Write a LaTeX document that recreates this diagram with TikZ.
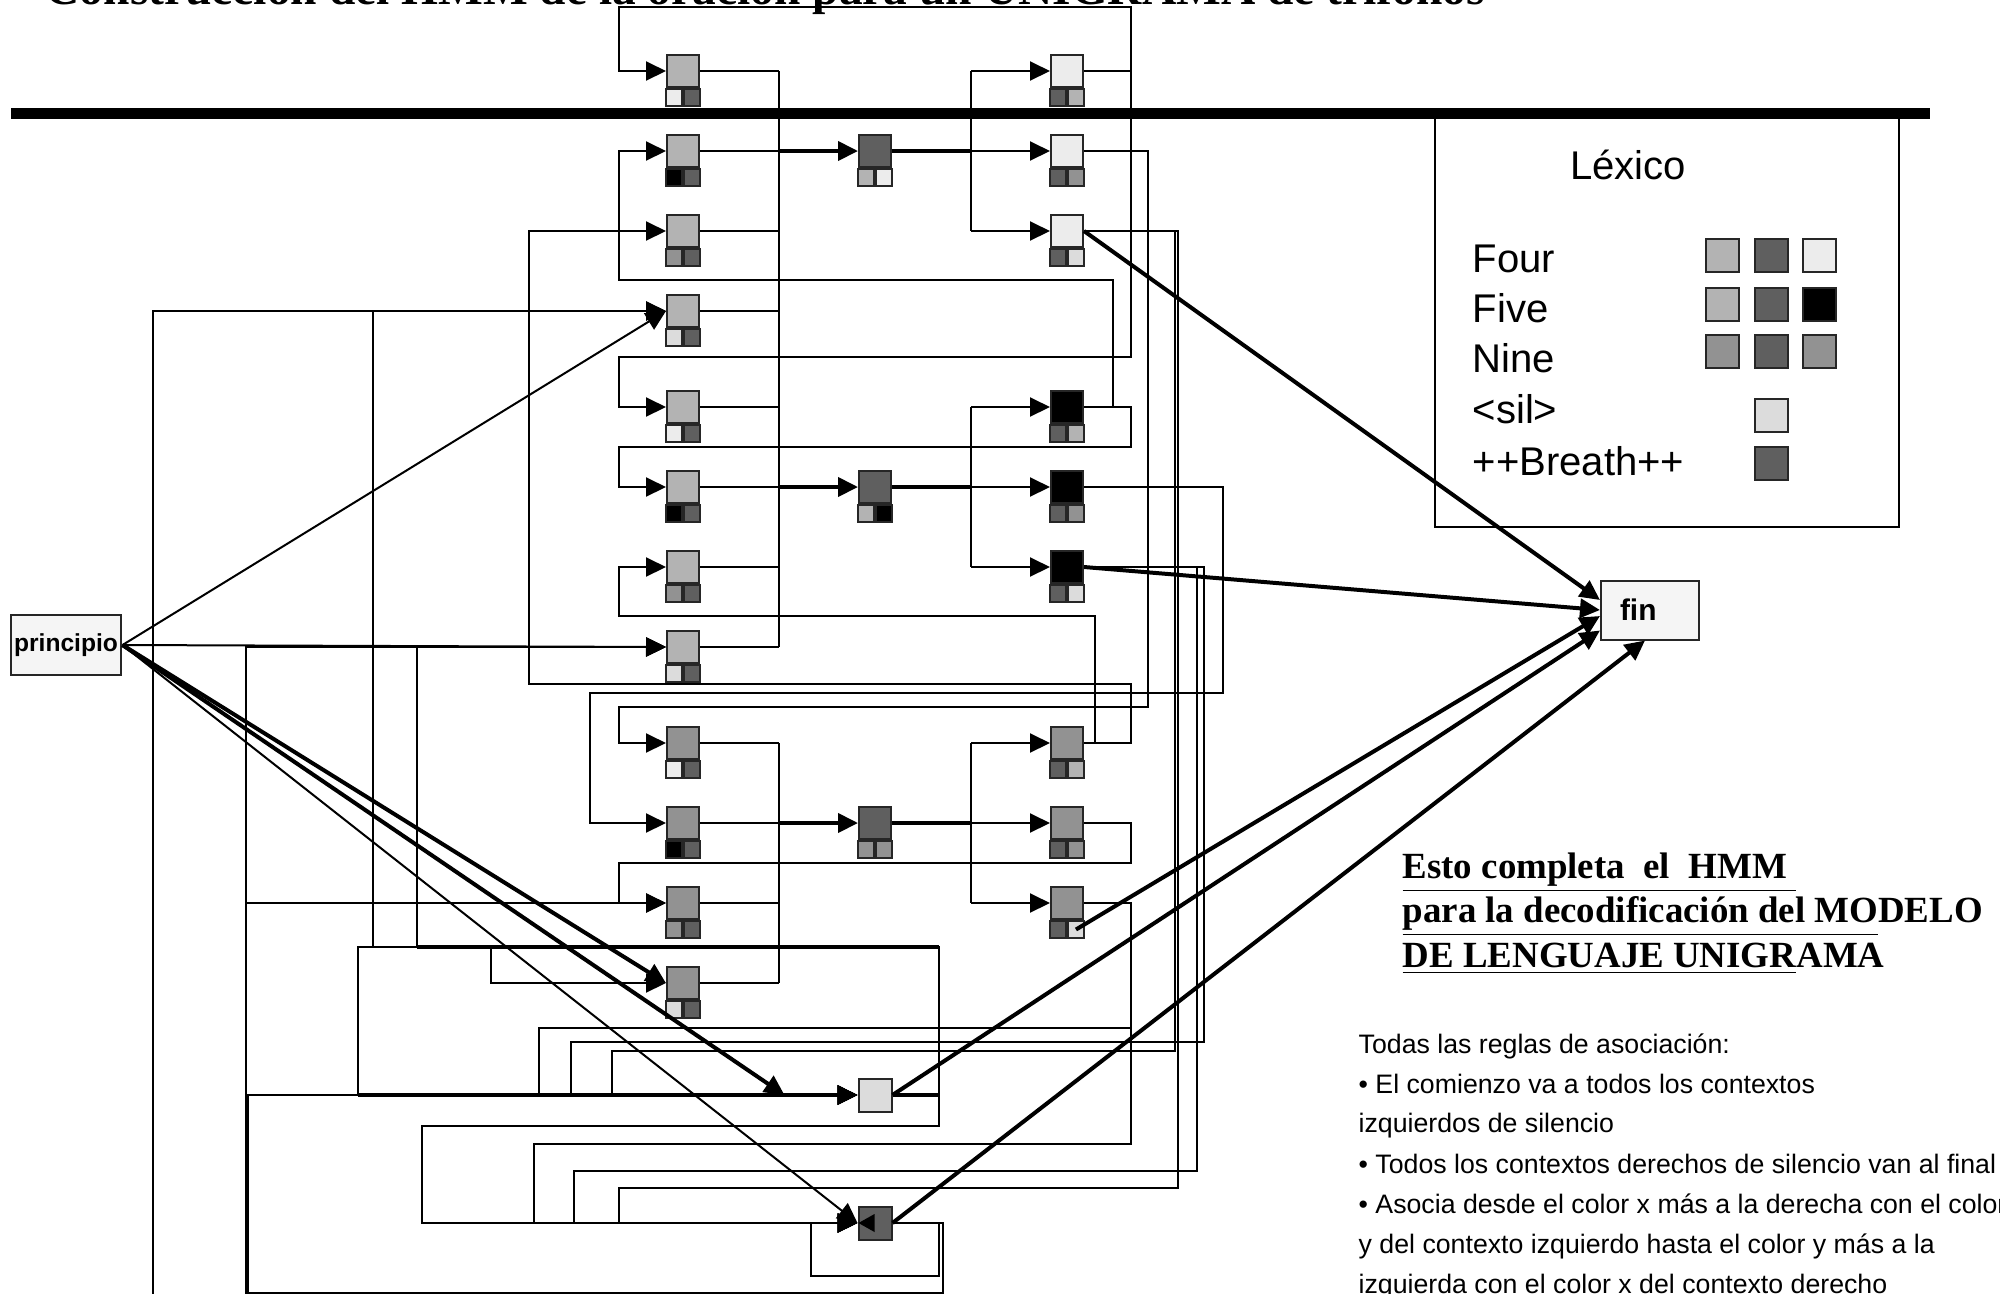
\documentclass[tikz,border=0pt]{standalone}
\usepackage{fontspec}
\setmainfont{Liberation Serif}
\setsansfont{Liberation Sans}
\usetikzlibrary{arrows.meta, positioning, calc}
\definecolor{cF}{HTML}{B3B3B3}
\definecolor{cD}{HTML}{5F5F5F}
\definecolor{cR}{HTML}{ECECEC}
\definecolor{cV}{HTML}{000000}
\definecolor{cN}{HTML}{929292}
\definecolor{cS}{HTML}{DCDCDC}
\tikzset{
  phone/.style = {rectangle, draw=black!85, line width=0.2mm, minimum width=3.2mm,
                  minimum height=3.2mm, inner sep=0pt},
  ctx/.style   = {rectangle, draw=black!85, line width=0.2mm, minimum width=1.6mm,
                  minimum height=1.7mm, inner sep=0pt},
  chip/.style  = {rectangle, draw=black!85, line width=0.2mm, minimum width=3.3mm,
                  minimum height=3.3mm, inner sep=0pt},
  term/.style  = {rectangle, draw=black!85, line width=0.2mm, fill=black!4,
                  inner sep=0pt, font=\sffamily\bfseries},
  lex/.style   = {anchor=base west, inner sep=0pt, font=\sffamily\fontsize{11.4}{13}\selectfont},
  note/.style  = {anchor=base west, inner sep=0pt, font=\sffamily\fontsize{7.6}{9}\selectfont},
  head/.style  = {anchor=base west, inner sep=0pt, font=\bfseries\fontsize{10.5}{12.7}\selectfont},
  wire/.style  = {line width=0.2mm, draw=black},
  thk/.style   = {line width=0.4mm, draw=black},
  arr/.style   = {-{Triangle[length=2mm, width=1.9mm]}}
}
\newcommand{\triph}[5]{%
  \node[phone, fill=#3] (#1) at (#2) {};
  \node[ctx, fill=#4, anchor=north east] (#1l) at (#1.south) {};
  \node[ctx, fill=#5, anchor=north west] (#1r) at (#1.south) {};
}
\begin{document}
\begin{tikzpicture}[x=0.1mm, y=-0.1mm]
  \useasboundingbox (0,0) rectangle (2000,1294);
  \node[anchor=base west, inner sep=0pt, font=\bfseries\fontsize{13.5}{16}\selectfont] (ttl) at (45,4)
    {Construcción del HMM de la oración para un UNIGRAMA de trifonos};
  \draw[line width=1.1mm] (11,113) -- (1930,113);

  \triph{lF1}{683,71}{cF}{cR}{cD}
  \triph{lF2}{683,151}{cF}{cV}{cD}
  \triph{lF3}{683,231}{cF}{cN}{cD}
  \triph{lF4}{683,311}{cF}{cS}{cD}
  \triph{lV1}{683,407}{cF}{cR}{cD}
  \triph{lV2}{683,487}{cF}{cV}{cD}
  \triph{lV3}{683,567}{cF}{cN}{cD}
  \triph{lV4}{683,647}{cF}{cS}{cD}
  \triph{lN1}{683,743}{cN}{cR}{cD}
  \triph{lN2}{683,823}{cN}{cV}{cD}
  \triph{lN3}{683,903}{cN}{cN}{cD}
  \triph{lN4}{683,983}{cN}{cS}{cD}
  \triph{mF}{875,151}{cD}{cF}{cR}
  \triph{mV}{875,487}{cD}{cF}{cV}
  \triph{mN}{875,823}{cD}{cN}{cN}
  \triph{rF1}{1067,71}{cR}{cD}{cF}
  \triph{rF2}{1067,151}{cR}{cD}{cN}
  \triph{rF3}{1067,231}{cR}{cD}{cS}
  \triph{rV1}{1067,407}{cV}{cD}{cF}
  \triph{rV2}{1067,487}{cV}{cD}{cN}
  \triph{rV3}{1067,567}{cV}{cD}{cS}
  \triph{rN1}{1067,743}{cN}{cD}{cF}
  \triph{rN2}{1067,823}{cN}{cD}{cN}
  \triph{rN3}{1067,903}{cN}{cD}{cS}
  \node[chip, fill=cS] (sil)  at (875,1095) {};
  \node[chip, fill=cD] (brth) at (875,1223) {};
  \node[term, minimum width=11.1mm, minimum height=6mm, font=\sffamily\bfseries\fontsize{7}{8}\selectfont]
    (princ) at (66,645) {principio};
  \node[term, minimum height=5.9mm, inner xsep=1.9mm, text width=6mm, align=left,
        font=\sffamily\bfseries\fontsize{8.5}{10}\selectfont] (fin) at (1650,610) {fin};
  \coordinate (busL) at (779,0);
  \coordinate (busR) at (971,0);
  \coordinate (offL) at (153,1300);
  \coordinate (sR) at (939,947);
  \coordinate (sB) at (417,947);
  \coordinate (sL) at (358,1095);

  \foreach \n in {lF1,lF2,lF3,lF4,lV1,lV2,lV3,lV4,lN1,lN2,lN3,lN4}
    \draw[wire] (\n.east) -- (\n.east -| busL);
  \draw[wire] (lF1.east -| busL) -- (lV4.east -| busL);
  \draw[wire] (lN1.east -| busL) -- (lN4.east -| busL);
  \foreach \g in {F,V,N} {
    \draw[thk,arr] (m\g.west -| busL) -- (m\g.west);
    \draw[thk] (m\g.east) -- (m\g.east -| busR);
    \draw[wire] (r\g1.west -| busR) -- (r\g3.west -| busR);
    \foreach \i in {1,2,3}
      \draw[wire,arr] (r\g\i.west -| busR) -- (r\g\i.west);
  }

  \draw[wire,arr] (rF1.east) -| (1131,7) -- (619,7) |- (lF1.west);
  \draw[wire,arr] (rF1.east) -| (1131,357) -- (619,357) |- (lV1.west);
  \draw[wire,arr] (rF2.east) -| (1148,707) -- (619,707) |- (lN1.west);
  \draw[wire,arr] (rF3.east) -| (1175,1051) -- (612,1051) |- (sil.west);
  \draw[wire,arr] (rF3.east) -| (1178,1188) -- (619,1188) |- (brth.west);
  \draw[wire,arr] (rV1.east) -| (1113,280) -- (619,280) |- (lF2.west);
  \draw[wire,arr] (rV1.east) -| (1131,447) -- (619,447) |- (lV2.west);
  \draw[wire,arr] (rV2.east) -| (1223,693) -- (590,693) |- (lN2.west);
  \draw[wire,arr] (rV3.east) -| (1204,1042) -- (571,1042) |- (sil.west);
  \draw[wire,arr] (rV3.east) -| (1197,1171) -- (574,1171) |- (brth.west);
  \draw[wire,arr] (rN1.east) -| (1131,684) -- (529,684) |- (lF3.west);
  \draw[wire,arr] (rN1.east) -| (1095,616) -- (619,616) |- (lV3.west);
  \draw[wire,arr] (rN2.east) -| (1131,863) -- (619,863) |- (lN3.west);
  \draw[wire,arr] (rN3.east) -| (1131,1028) -- (539,1028) |- (sil.west);
  \draw[wire,arr] (rN3.east) -| (1131,1144) -- (534,1144) |- (brth.west);

  \draw[wire,arr] (sil.east) -| (sR) -- (373,947) |- (lF4.west);
  \draw[wire,arr] (sil.east) -| (sR) -- (sB) |- (lV4.west);
  \draw[wire,arr] (sil.east) -| (sR) -- (491,947) |- (lN4.west);
  \draw[wire,arr] (sil.east) -| (sR) -- (358,947) |- (sil.west);
  \draw[thk] (sil.east) -- (sil.east -| sR);
  \draw[thk] (sR) -- (sB);
  \draw[thk,arr] (sL) -- (sil.west);
  \draw[wire,arr] (sil.east) -| (939,1126) -- (422,1126) |- (brth.west);
  \draw[wire,arr] (brth.east) -| (939,1276) -- (811,1276) |- (brth.west);
  \draw[wire,arr] (brth.east) -| (943,1293) -- (246,1293) |- (lV4.west);
  \draw[wire,arr] (brth.east) -| (943,1293) -- (246,1293) |- (lN3.west);
  \draw[wire,arr] (brth.east) -| (943,1293) -- (248,1293) |- (sil.west);
  \draw[wire,arr] (offL) |- (lF4.west);

  \draw[wire,arr] (princ.east) -- (lF4.west);
  \draw[wire,arr] (princ.east) -- (lV4.west);
  \draw[thk,arr] (princ.east) -- (lN4.west);
  \draw[thk,arr] (princ.east) -- ([xshift=-7.3mm]sil.west);
  \draw[wire,arr] (princ.east) -- (brth.west);

  \draw[thk,arr] (rF3.east) -- ([yshift=1mm]fin.west);
  \draw[thk,arr] (rV3.east) -- (fin.west);
  \draw[thk,arr] (rN3r.center) -- ([yshift=-0.6mm]fin.west);
  \draw[thk,arr] (sil.east) -- ([yshift=1mm]fin.south west);
  \draw[thk,arr] (brth.east) -- ([xshift=-0.5mm]fin.south);
  \fill ([xshift=0.1mm]brth.west) -- ++(1.6mm,0.9mm) -- ++(0,-1.8mm) -- cycle;

  \node[draw, line width=0.2mm, minimum width=46.4mm, minimum height=41.4mm, inner sep=0pt]
    (lexbox) at (1667,320) {};
  \node[font=\sffamily\fontsize{11.4}{13}\selectfont] (lextit) at (1628,165) {Léxico};
  \node[lex] (wFour) at (1472,272) {Four};
  \node[lex] (wFive) at (1472,322) {Five};
  \node[lex] (wNine) at (1472,372) {Nine};
  \node[lex] (wSil)  at (1472,423) {<sil>};
  \node[lex] (wBr)   at (1472,475) {++Breath++};
  \node[chip, fill=cF] (k11) at (1722,255) {};
  \node[chip, fill=cD] (k12) at (1771,255) {};
  \node[chip, fill=cR] (k13) at (1819,255) {};
  \node[chip, fill=cF] (k21) at (1722,304) {};
  \node[chip, fill=cD] (k22) at (1771,304) {};
  \node[chip, fill=cV] (k23) at (1819,304) {};
  \node[chip, fill=cN] (k31) at (1722,351) {};
  \node[chip, fill=cD] (k32) at (1771,351) {};
  \node[chip, fill=cN] (k33) at (1819,351) {};
  \node[chip, fill=cS] (k42) at (1771,415) {};
  \node[chip, fill=cD] (k52) at (1771,463) {};

  \node[head] (hd1) at (1402,878) {\underline{Esto completa\ \ el\ \ HMM\ }};
  \node[head] (hd2) at (1402,922) {\underline{para la decodificación del MO}DELO};
  \node[head] (hd3) at (1402,967) {\underline{DE LENGUAJE UNIGR}AMA};
  \node[note] (t1) at (1358,1053) {Todas las reglas de asociación:};
  \node[note] (t2) at (1358,1093) {• El comienzo va a todos los contextos};
  \node[note] (t3) at (1358,1132) {izquierdos de silencio};
  \node[note] (t4) at (1358,1173) {• Todos los contextos derechos de silencio van al final};
  \node[note] (t5) at (1358,1213) {• Asocia desde el color x más a la derecha con el color};
  \node[note] (t6) at (1358,1253) {y del contexto izquierdo hasta el color y más a la};
  \node[note] (t7) at (1358,1293) {izquierda con el color x del contexto derecho};
\end{tikzpicture}
\end{document}
